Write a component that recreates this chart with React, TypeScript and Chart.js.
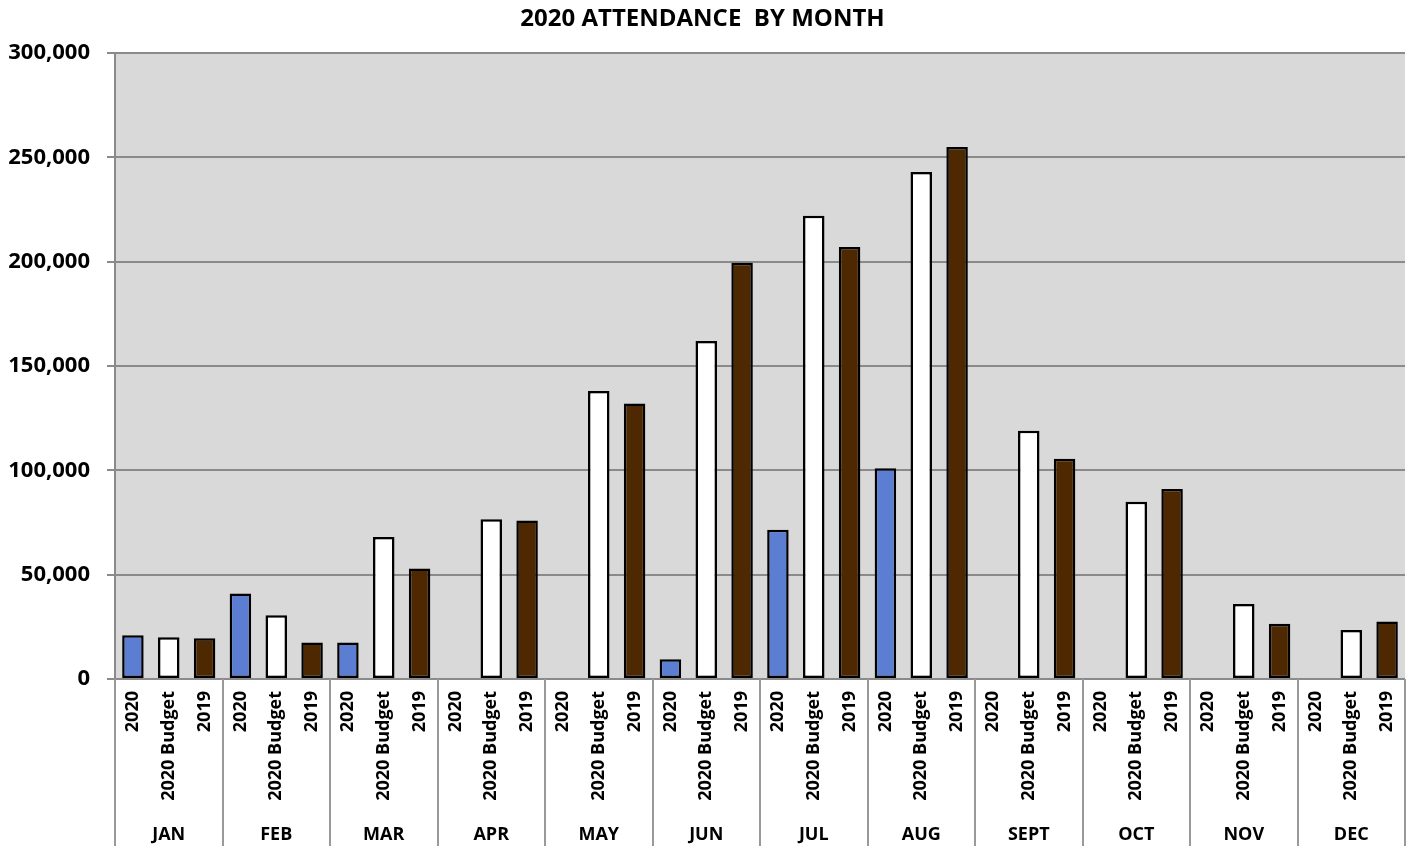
import React, { useEffect, useRef } from "react";
import { Chart, registerables } from "chart.js";

Chart.register(...registerables);

const months = ["JAN", "FEB", "MAR", "APR", "MAY", "JUN", "JUL", "AUG", "SEPT", "OCT", "NOV", "DEC"];
const seriesNames = ["2020", "2020 Budget", "2019"];
const actual2020: (number | null)[] = [21000, 41000, 17500, null, null, 9500, 71500, 101000, null, null, null, null];
const budget2020: number[] = [20000, 30500, 68000, 76500, 138000, 162000, 222000, 243000, 119000, 85000, 36000, 23500];
const actual2019: number[] = [19500, 17500, 53000, 76000, 132000, 199500, 207000, 255000, 105500, 91000, 26500, 27500];
const yTicks = [0, 50000, 100000, 150000, 200000, 250000, 300000];
const seriesColors = ["#5b7ed2", "#ffffff", "#4d2800"];

const FONT = "'Open Sans', 'Liberation Sans', sans-serif";

export default function App() {
  const ref = useRef<HTMLCanvasElement | null>(null);

  useEffect(() => {
    document.body.style.margin = "0";
    const canvas = ref.current;
    if (!canvas) return;

    const labels: string[] = [];
    const values: (number | null)[] = [];
    const colors: string[] = [];
    const seriesData = [actual2020, budget2020, actual2019];
    months.forEach((_, m) => {
      seriesNames.forEach((name, s) => {
        labels.push(name);
        values.push(seriesData[s][m]);
        colors.push(seriesColors[s]);
      });
    });

    const bgPlugin = {
      id: "plotBg",
      beforeDraw(chart: any) {
        const { ctx, chartArea } = chart;
        ctx.save();
        ctx.fillStyle = "#d9d9d9";
        ctx.fillRect(chartArea.left, chartArea.top, chartArea.right - chartArea.left, chartArea.bottom - chartArea.top);
        ctx.restore();
      },
    };

    const sepPlugin = {
      id: "monthSeparators",
      afterDraw(chart: any) {
        const { ctx, chartArea } = chart;
        const xs = chart.scales.x;
        ctx.save();
        ctx.strokeStyle = "#999999";
        ctx.lineWidth = 2;
        for (let k = 0; k <= months.length; k++) {
          const x = Math.round(xs.getPixelForValue(k * seriesNames.length - 0.5));
          ctx.beginPath();
          ctx.moveTo(x, chartArea.bottom);
          ctx.lineTo(x, chart.height);
          ctx.stroke();
        }
        ctx.restore();
      },
    };

    const noSidePad = (scale: any, h: number) => {
      scale.height = h;
      scale.paddingLeft = 0;
      scale.paddingRight = 0;
    };

    const chart = new Chart(canvas, {
      type: "bar",
      data: {
        labels,
        datasets: [
          {
            data: values as any,
            backgroundColor: colors,
            borderColor: "#000000",
            borderWidth: 2.5,
            borderSkipped: false,
            barPercentage: 0.6,
            categoryPercentage: 1,
            xAxisID: "x",
          },
        ],
      },
      options: {
        responsive: false,
        animation: false,
        layout: { padding: { left: 0, right: 5, top: 0, bottom: 0 } },
        plugins: {
          legend: { display: false },
          tooltip: { enabled: false },
          title: {
            display: true,
            text: "2020 ATTENDANCE  BY MONTH",
            color: "#000000",
            font: { family: FONT, size: 24, weight: "bold" },
            padding: { top: 5, bottom: 19.2 },
          },
        },
        scales: {
          x: {
            type: "category",
            position: "bottom",
            offset: true,
            grid: { display: false, drawTicks: false },
            border: { display: false },
            ticks: {
              autoSkip: false,
              minRotation: 90,
              maxRotation: 90,
              padding: 12,
              color: "#000000",
              font: { family: FONT, size: 18, weight: "bold" },
            },
            afterFit(scale: any) {
              noSidePad(scale, 136);
            },
          },
          x2: {
            type: "category",
            position: "bottom",
            labels: months,
            offset: true,
            grid: { display: false, drawTicks: false },
            border: { display: false },
            ticks: {
              autoSkip: false,
              maxRotation: 0,
              minRotation: 0,
              padding: 9,
              color: "#000000",
              font: { family: FONT, size: 18, weight: "bold" },
            },
            afterFit(scale: any) {
              noSidePad(scale, 31);
            },
          },
          y: {
            min: yTicks[0],
            max: yTicks[yTicks.length - 1],
            grid: { color: "#8a8a8a", lineWidth: 2, tickLength: 8, drawTicks: true },
            border: { display: true, color: "#8a8a8a", width: 2 },
            afterBuildTicks(scale: any) {
              scale.ticks = yTicks.map((v) => ({ value: v }));
            },
            ticks: {
              padding: 17,
              color: "#000000",
              font: { family: FONT, size: 22, weight: "bold" },
              callback: (v: any) => Number(v).toLocaleString("en-US"),
            },
            afterFit(scale: any) {
              scale.width = 115;
            },
          },
        },
      },
      plugins: [bgPlugin, sepPlugin],
    });

    return () => chart.destroy();
  }, []);

  return <canvas ref={ref} width={1410} height={846} style={{ display: "block" }} />;
}
